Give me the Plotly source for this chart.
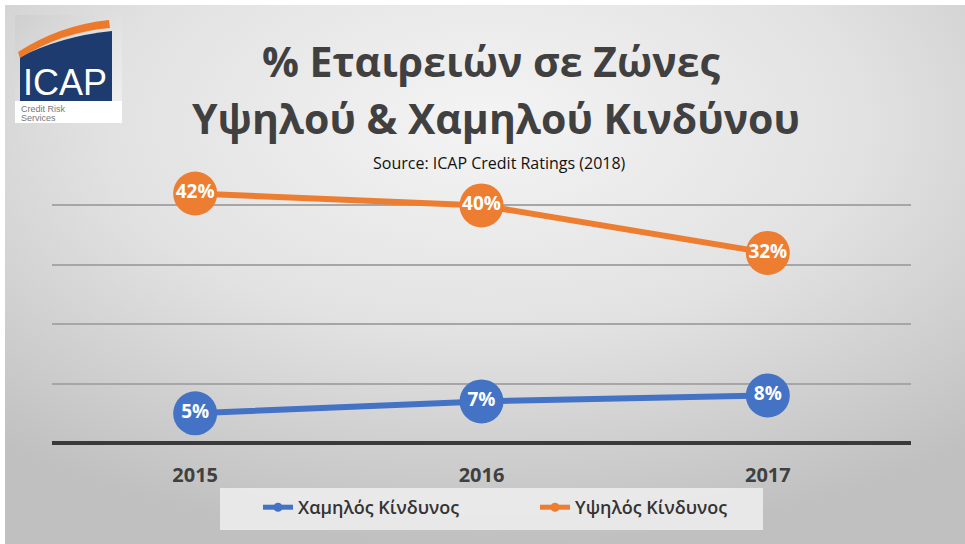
import base64
import plotly.graph_objects as go

# ---- data ----
years = ["2015", "2016", "2017"]
low_risk = [5, 7, 8]
high_risk = [42, 40, 32]
low_name = "Χαμηλός Κίνδυνος"
high_name = "Υψηλός Κίνδυνος"
grid_vals = [10, 20, 30, 40]
title_1 = "% Εταιρειών σε Ζώνες"
title_2 = "Υψηλού & Χαμηλού Κινδύνου"
source = "Source: ICAP Credit Ratings (2018)"

W, H = 965, 544
PL, PR, PT, PB = 52, 911, 146, 443
BLUE = "#4472C4"
ORANGE = "#ED7D31"
DARK = "#404040"
FONT = "Open Sans"


def px(x):
    return (x - PL) / (PR - PL)


def py(y):
    return (PB - y) / (PB - PT)


svg = f'''<svg xmlns="http://www.w3.org/2000/svg" width="{W}" height="{H}" viewBox="0 0 {W} {H}" preserveAspectRatio="none">
<defs>
<radialGradient id="g" cx="0.5" cy="0.22" r="0.78">
<stop offset="0" stop-color="#f4f4f4"/><stop offset="0.5" stop-color="#e2e2e2"/><stop offset="1" stop-color="#c0c0c0"/>
</radialGradient>
<linearGradient id="lg" x1="0" y1="0" x2="1" y2="1">
<stop offset="0" stop-color="#cfcfcf"/><stop offset="1" stop-color="#f2f2f2"/>
</linearGradient>
</defs>
<rect x="0" y="0" width="{W}" height="{H}" fill="#ffffff"/>
<rect x="5" y="5" width="{W-5}" height="{H-5}" fill="url(#g)"/>
<rect x="15" y="15" width="107" height="108" fill="url(#lg)"/>
<rect x="15" y="101" width="107" height="22" fill="#ffffff"/>
<path d="M20,57 Q62,36 112,31 L112,101 L20,101 Z" fill="#1d3b6e"/>
<path d="M18,52 Q60,25 109,20 L110,28 Q62,32 20,58 Z" fill="#ec7a2a"/>
</svg>'''
bg_uri = "data:image/svg+xml;base64," + base64.b64encode(svg.encode("utf-8")).decode("ascii")

fig = go.Figure()

for name, vals, col in [(low_name, low_risk, BLUE), (high_name, high_risk, ORANGE)]:
    fig.add_trace(go.Scatter(
        x=years, y=vals, mode="lines+markers+text",
        text=[f"{v}%" for v in vals], textposition="middle center",
        textfont=dict(family=FONT, size=19, color="white", weight="bold"),
        line=dict(color=col, width=6),
        marker=dict(color=col, size=44),
        cliponaxis=False, showlegend=False, hoverinfo="skip",
    ))

# legend entries
for name, col in [(low_name, BLUE), (high_name, ORANGE)]:
    fig.add_trace(go.Scatter(
        x=[None], y=[None], mode="lines+markers", name=name,
        line=dict(color=col, width=5), marker=dict(color=col, size=9),
    ))

annotations = [
    dict(text=title_1, x=px(491), y=py(61), showarrow=False, xanchor="center", yanchor="middle",
         font=dict(family=FONT, size=41, color=DARK, weight="bold")),
    dict(text=title_2, x=px(496), y=py(118), showarrow=False, xanchor="center", yanchor="middle",
         font=dict(family=FONT, size=41, color=DARK, weight="bold")),
    dict(text=source, x=px(500), y=py(163), showarrow=False, xanchor="center", yanchor="middle",
         font=dict(family=FONT, size=16, color="#111111")),
    dict(text="ICAP", x=px(65), y=py(82), showarrow=False, xanchor="center", yanchor="middle",
         font=dict(family="Liberation Sans", size=36, color="white")),
    dict(text="Credit Risk", x=px(19), y=py(109), showarrow=False, xanchor="left", yanchor="middle",
         font=dict(family="Liberation Sans", size=9, color="#777777")),
    dict(text="Services", x=px(19), y=py(118), showarrow=False, xanchor="left", yanchor="middle",
         font=dict(family="Liberation Sans", size=9, color="#777777")),
]
for a in annotations:
    a.update(xref="paper", yref="paper")

fig.update_layout(
    width=W, height=H,
    margin=dict(l=PL, r=W - PR, t=PT, b=H - PB),
    paper_bgcolor="white", plot_bgcolor="rgba(0,0,0,0)",
    images=[dict(source=bg_uri, xref="paper", yref="paper", x=px(0), y=py(0),
                 sizex=W / (PR - PL), sizey=H / (PB - PT), xanchor="left", yanchor="top",
                 sizing="stretch", layer="below")],
    shapes=[dict(type="rect", xref="paper", yref="paper", x0=px(220), x1=px(763), y0=py(530), y1=py(488),
                 fillcolor="rgba(236,236,236,0.9)", line=dict(width=0), layer="below")],
    annotations=annotations,
    showlegend=True,
    legend=dict(orientation="h", x=px(258), xanchor="left", y=py(489), yanchor="top",
                bgcolor="rgba(0,0,0,0)", entrywidth=232,
                font=dict(family=FONT, size=18, color="#333333", weight=600)),
    xaxis=dict(type="category", categoryorder="array", categoryarray=years, range=[-0.5, 2.5],
               showgrid=False, showline=False, zeroline=False,
               ticks="outside", ticklen=14, tickcolor="rgba(0,0,0,0)",
               tickfont=dict(family=FONT, size=20, color=DARK, weight="bold")),
    yaxis=dict(range=[0, 50], tickvals=grid_vals, showticklabels=False, showgrid=True,
               gridcolor="#a6a6a6", gridwidth=2, zeroline=True, zerolinecolor="#3a3a3a",
               zerolinewidth=4, showline=False, fixedrange=True),
)

fig.write_html("out.html", config={"displayModeBar": False},
               post_script="document.body.style.margin='0';")
